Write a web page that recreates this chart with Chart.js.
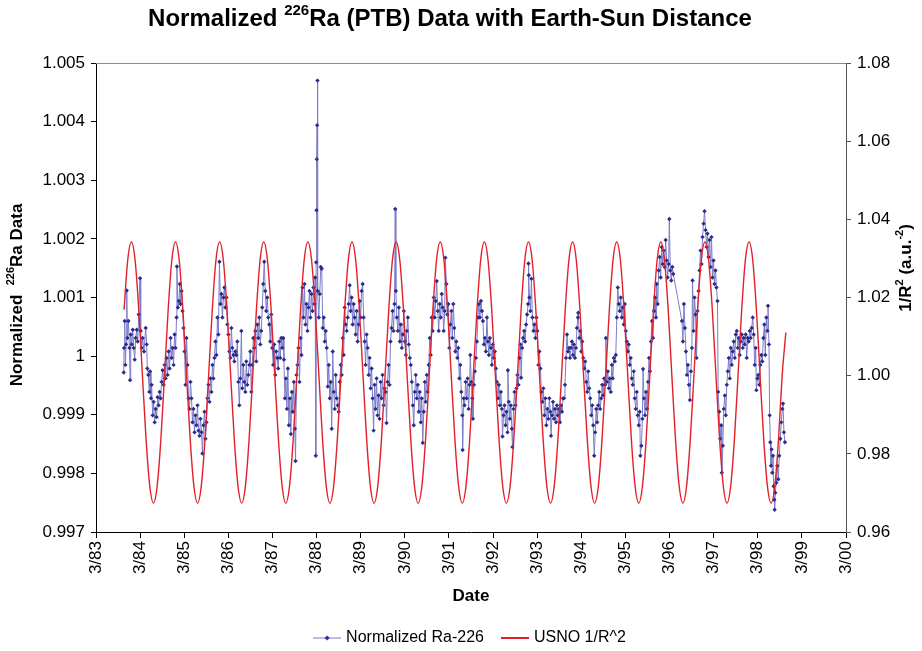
<!DOCTYPE html>
<html>
<head>
<meta charset="utf-8">
<title>Normalized 226Ra (PTB) Data with Earth-Sun Distance</title>
<script src="https://cdn.jsdelivr.net/npm/chart.js@4.4.1/dist/chart.umd.min.js"></script>
<style>
  html, body { margin: 0; padding: 0; background: #fff; }
  #wrap { width: 922px; height: 651px; }
</style>
</head>
<body>
<div id="wrap"><canvas id="chart" width="922" height="651"></canvas></div>
<script>
// x axis: one tick each March, as decimal years
var xTickYears = [1983.167, 1984.167, 1985.167, 1986.167, 1987.167, 1988.167, 1989.167, 1990.167, 1991.167,
  1992.167, 1993.167, 1994.167, 1995.167, 1996.167, 1997.167, 1998.167, 1999.167, 2000.167];
var xTickLabels = ['3/83', '3/84', '3/85', '3/86', '3/87', '3/88', '3/89', '3/90', '3/91',
  '3/92', '3/93', '3/94', '3/95', '3/96', '3/97', '3/98', '3/99', '3/00'];

var leftTickValues = [0.997, 0.998, 0.999, 1.000, 1.001, 1.002, 1.003, 1.004, 1.005];
var leftTickLabels = ['0.997', '0.998', '0.999', '1', '1.001', '1.002', '1.003', '1.004', '1.005'];
var rightTickValues = [0.96, 0.98, 1.00, 1.02, 1.04, 1.06, 1.08];
var rightTickLabels = ['0.96', '0.98', '1.00', '1.02', '1.04', '1.06', '1.08'];

// Normalized Ra-226 (PTB), date as decimal year
var raDates = [
  1983.796, 1983.803, 1983.818, 1983.833, 1983.849, 1983.864, 1983.879, 1983.901, 1983.924, 1983.939,
  1983.954, 1983.977, 1984.000, 1984.022, 1984.044, 1984.067, 1984.090, 1984.112, 1984.135, 1984.165,
  1984.180, 1984.202, 1984.225, 1984.255, 1984.293, 1984.315, 1984.330, 1984.353, 1984.376, 1984.391,
  1984.413, 1984.428, 1984.451, 1984.474, 1984.496, 1984.519, 1984.541, 1984.564, 1984.587, 1984.609,
  1984.632, 1984.654, 1984.677, 1984.699, 1984.722, 1984.745, 1984.767, 1984.790, 1984.812, 1984.835,
  1984.858, 1984.880, 1984.903, 1984.925, 1984.948, 1984.971, 1984.993, 1985.001, 1985.023, 1985.046,
  1985.068, 1985.084, 1985.106, 1985.129, 1985.151, 1985.174, 1985.196, 1985.219, 1985.242, 1985.264,
  1985.287, 1985.309, 1985.332, 1985.355, 1985.377, 1985.400, 1985.422, 1985.445, 1985.468, 1985.490,
  1985.513, 1985.535, 1985.558, 1985.580, 1985.603, 1985.626, 1985.648, 1985.671, 1985.693, 1985.716,
  1985.739, 1985.761, 1985.784, 1985.806, 1985.829, 1985.852, 1985.874, 1985.897, 1985.919, 1985.942,
  1985.965, 1985.987, 1986.010, 1986.032, 1986.055, 1986.077, 1986.100, 1986.123, 1986.145, 1986.168,
  1986.190, 1986.213, 1986.236, 1986.258, 1986.281, 1986.303, 1986.326, 1986.349, 1986.371, 1986.394,
  1986.416, 1986.439, 1986.462, 1986.484, 1986.507, 1986.529, 1986.552, 1986.574, 1986.597, 1986.620,
  1986.642, 1986.665, 1986.687, 1986.710, 1986.733, 1986.755, 1986.778, 1986.800, 1986.823, 1986.846,
  1986.868, 1986.891, 1986.913, 1986.936, 1986.958, 1986.981, 1987.004, 1987.026, 1987.049, 1987.071,
  1987.094, 1987.117, 1987.139, 1987.162, 1987.184, 1987.207, 1987.230, 1987.252, 1987.275, 1987.297,
  1987.320, 1987.343, 1987.365, 1987.388, 1987.410,
  1987.426, 1987.449, 1987.471, 1987.494, 1987.516, 1987.539, 1987.562, 1987.584, 1987.607, 1987.629,
  1987.652, 1987.674, 1987.690, 1987.712, 1987.735, 1987.757, 1987.780, 1987.803, 1987.825, 1987.848,
  1987.870, 1987.893, 1987.915, 1987.938, 1987.961, 1987.983, 1988.006, 1988.028, 1988.051, 1988.074,
  1988.096, 1988.119, 1988.134, 1988.149, 1988.156, 1988.164, 1988.171, 1988.179, 1988.187, 1988.194,
  1988.217, 1988.239, 1988.262, 1988.284, 1988.307, 1988.330, 1988.352, 1988.375, 1988.397, 1988.420,
  1988.443, 1988.465, 1988.488, 1988.510, 1988.533, 1988.556, 1988.578, 1988.601, 1988.623, 1988.646,
  1988.668, 1988.691, 1988.714, 1988.736, 1988.759, 1988.781, 1988.804, 1988.827, 1988.849, 1988.872,
  1988.894, 1988.917, 1988.940, 1988.962, 1988.985, 1989.007, 1989.030, 1989.053, 1989.075, 1989.098,
  1989.120, 1989.143, 1989.165, 1989.188, 1989.211, 1989.233, 1989.256, 1989.278, 1989.301, 1989.324,
  1989.346, 1989.369, 1989.391, 1989.414, 1989.437, 1989.459, 1989.482, 1989.504, 1989.527, 1989.549,
  1989.572, 1989.595, 1989.617, 1989.640, 1989.662, 1989.685, 1989.708, 1989.730, 1989.753, 1989.775,
  1989.798, 1989.821, 1989.843, 1989.866, 1989.888, 1989.911, 1989.933, 1989.949, 1989.964, 1989.986,
  1990.009, 1990.032, 1990.054, 1990.077, 1990.099, 1990.122, 1990.144, 1990.167, 1990.190, 1990.212,
  1990.235, 1990.257, 1990.280, 1990.302, 1990.325, 1990.348, 1990.370, 1990.393, 1990.415, 1990.438,
  1990.461, 1990.483, 1990.506, 1990.528, 1990.551, 1990.574, 1990.596, 1990.619, 1990.641, 1990.664,
  1990.686, 1990.709, 1990.732, 1990.754, 1990.777, 1990.799, 1990.822, 1990.845, 1990.867, 1990.890,
  1990.913, 1990.935, 1990.958, 1990.980, 1991.003, 1991.025, 1991.048, 1991.071, 1991.086, 1991.108,
  1991.131, 1991.153, 1991.176, 1991.199, 1991.221, 1991.244, 1991.266, 1991.289, 1991.312, 1991.334,
  1991.357, 1991.379, 1991.402, 1991.425, 1991.447, 1991.470, 1991.477, 1991.500, 1991.522, 1991.545,
  1991.568, 1991.590, 1991.613, 1991.635,
  1991.651, 1991.674, 1991.696, 1991.711, 1991.734, 1991.756, 1991.779, 1991.802, 1991.824, 1991.847,
  1991.869, 1991.892, 1991.915, 1991.937, 1991.960, 1991.982, 1992.005, 1992.028, 1992.050, 1992.073,
  1992.095, 1992.118, 1992.140, 1992.163, 1992.186, 1992.208, 1992.231, 1992.253, 1992.276, 1992.299,
  1992.321, 1992.344, 1992.366, 1992.381, 1992.404, 1992.427, 1992.449, 1992.472, 1992.494, 1992.502,
  1992.524, 1992.547, 1992.570, 1992.592, 1992.607, 1992.630, 1992.653, 1992.675, 1992.698, 1992.720,
  1992.743, 1992.765, 1992.788, 1992.803, 1992.826, 1992.848, 1992.871, 1992.893, 1992.916, 1992.939,
  1992.961, 1992.969, 1992.976, 1992.991, 1993.014, 1993.037, 1993.059, 1993.082, 1993.104, 1993.127,
  1993.150, 1993.172, 1993.195, 1993.217, 1993.240, 1993.262, 1993.285, 1993.308, 1993.330, 1993.353,
  1993.375, 1993.398, 1993.421, 1993.443, 1993.466, 1993.481, 1993.503, 1993.526, 1993.549, 1993.571,
  1993.594, 1993.616, 1993.639, 1993.662, 1993.684, 1993.707, 1993.729, 1993.752, 1993.775, 1993.797,
  1993.820, 1993.842, 1993.865, 1993.888, 1993.910, 1993.933, 1993.955, 1993.978, 1994.000, 1994.023,
  1994.046, 1994.068, 1994.091, 1994.098, 1994.121, 1994.143, 1994.166, 1994.189, 1994.211, 1994.234,
  1994.256, 1994.279, 1994.302, 1994.324, 1994.347, 1994.369, 1994.392, 1994.415, 1994.437, 1994.460,
  1994.482, 1994.505, 1994.527, 1994.550, 1994.573, 1994.595, 1994.618, 1994.640, 1994.663, 1994.685,
  1994.708, 1994.723, 1994.746, 1994.768, 1994.791, 1994.814, 1994.836, 1994.859, 1994.881, 1994.904,
  1994.927, 1994.949, 1994.972, 1994.994, 1995.017, 1995.040, 1995.062, 1995.085, 1995.107, 1995.130,
  1995.153, 1995.175, 1995.198, 1995.220, 1995.243, 1995.265, 1995.288, 1995.311, 1995.333, 1995.356,
  1995.378, 1995.401, 1995.424, 1995.446, 1995.469, 1995.491, 1995.506, 1995.529, 1995.552, 1995.567,
  1995.589, 1995.612, 1995.634, 1995.657, 1995.680, 1995.702, 1995.725, 1995.747, 1995.770, 1995.793,
  1995.815, 1995.838, 1995.860,
  1995.876, 1995.899, 1995.921, 1995.944, 1995.966, 1995.989, 1996.012, 1996.034, 1996.057, 1996.079,
  1996.102, 1996.124, 1996.147, 1996.162, 1996.185, 1996.207, 1996.230, 1996.252, 1996.448, 1996.471,
  1996.493, 1996.516, 1996.539, 1996.561, 1996.584, 1996.606, 1996.629, 1996.652, 1996.674, 1996.689,
  1996.712, 1996.734, 1996.757, 1996.780, 1996.802, 1996.825, 1996.847, 1996.870, 1996.893, 1996.915,
  1996.938, 1996.960, 1996.983, 1997.006, 1997.028, 1997.051, 1997.073, 1997.096, 1997.118, 1997.141,
  1997.164, 1997.186, 1997.209, 1997.231, 1997.254, 1997.269, 1997.292, 1997.314, 1997.337, 1997.352,
  1997.375, 1997.397, 1997.420, 1997.442, 1997.465, 1997.487, 1997.510, 1997.533, 1997.555, 1997.578,
  1997.600, 1997.623, 1997.646, 1997.668, 1997.691, 1997.713, 1997.736, 1997.758, 1997.781, 1997.804,
  1997.826, 1997.849, 1997.871, 1997.894, 1997.917, 1997.939, 1997.962, 1997.984, 1998.007, 1998.030,
  1998.052, 1998.075, 1998.097, 1998.120, 1998.135, 1998.158, 1998.180, 1998.203, 1998.225, 1998.248,
  1998.271, 1998.293, 1998.316, 1998.338, 1998.361, 1998.384, 1998.399, 1998.421, 1998.436, 1998.451,
  1998.466, 1998.481, 1998.496, 1998.512, 1998.527, 1998.542, 1998.549, 1998.564, 1998.587, 1998.609,
  1998.632, 1998.654, 1998.677, 1998.700, 1998.723, 1998.738, 1998.760, 1998.783
];
var raValues = [
  0.99972, 1.00014, 1.00060, 0.99985, 1.00020, 1.00112, 1.00031, 1.00060, 1.00014, 0.99959,
  1.00037, 1.00020, 1.00045, 1.00014, 0.99994, 1.00031, 1.00045, 1.00025, 1.00071, 1.00133,
  1.00043, 1.00014, 1.00031, 1.00008, 1.00048, 1.00020, 0.99979, 0.99968, 0.99939, 0.99974,
  0.99928, 0.99951, 0.99899, 0.99922, 0.99887, 0.99910, 0.99896, 0.99930, 0.99916, 0.99939,
  0.99928, 0.99956, 0.99976, 0.99951, 0.99985, 0.99962, 0.99997, 0.99968, 1.00008, 0.99979,
  1.00031, 0.99997, 1.00014, 0.99985, 1.00037, 1.00014, 1.00066, 1.00153, 1.00083, 1.00094,
  1.00123, 1.00089, 1.00111, 1.00077, 1.00048, 1.00008, 0.99951, 1.00031, 0.99985, 0.99928,
  0.99910, 0.99956, 0.99928, 0.99887, 0.99910, 0.99870, 0.99899, 0.99882, 0.99916, 0.99873,
  0.99864, 0.99893, 0.99870, 0.99834, 0.99882, 0.99905, 0.99859, 0.99887, 0.99928, 0.99951,
  0.99922, 0.99962, 0.99939, 0.99985, 0.99962, 0.99997, 1.00025, 1.00002, 1.00066, 1.00037,
  1.00161, 1.00089, 1.00106, 1.00066, 1.00100, 1.00117, 1.00083, 1.00100, 1.00054, 1.00037,
  1.00008, 0.99997, 1.00048, 1.00014, 1.00002, 0.99991, 1.00008, 1.00002, 1.00025, 0.99956,
  0.99916, 0.99962, 1.00043, 0.99945, 0.99985, 0.99956, 0.99939, 0.99991, 0.99951, 0.99968,
  0.99985, 1.00008, 0.99939, 0.99985, 1.00031, 1.00014, 1.00043, 0.99991, 1.00054, 1.00031,
  1.00066, 1.00020, 1.00043, 1.00083, 1.00123, 1.00161, 1.00111, 1.00077, 1.00100, 1.00066,
  1.00054, 1.00025, 1.00071, 1.00014, 0.99985, 1.00020, 0.99968, 1.00008, 0.99997, 0.99979,
  1.00025, 0.99997, 1.00031, 1.00014, 1.00031,
  0.99994, 0.99928, 0.99962, 0.99910, 0.99979, 0.99882, 0.99928, 0.99867, 0.99939, 0.99905,
  0.99956, 0.99876, 0.99821, 0.99968, 0.99985, 1.00014, 0.99956, 1.00031, 1.00002, 1.00117,
  1.00066, 1.00123, 1.00054, 1.00089, 1.00043, 1.00083, 1.00111, 1.00066, 1.00106, 1.00077,
  1.00117, 1.00089, 1.00134, 0.99830, 1.00160, 1.00249, 1.00336, 1.00394, 1.00470, 1.00111,
  1.00066, 1.00106, 1.00152, 1.00149, 1.00048, 1.00066, 1.00025, 1.00043, 1.00014, 0.99948,
  0.99985, 0.99928, 0.99956, 0.99876, 1.00008, 0.99939, 0.99910, 0.99968, 0.99928, 0.99916,
  0.99905, 0.99956, 0.99985, 0.99968, 1.00031, 1.00002, 1.00083, 1.00054, 1.00043, 1.00066,
  1.00089, 1.00121, 1.00077, 1.00100, 1.00054, 1.00089, 1.00066, 1.00037, 1.00077, 1.00025,
  1.00054, 1.00094, 1.00066, 1.00111, 1.00123, 1.00066, 1.00025, 0.99985, 1.00037, 1.00014,
  0.99968, 0.99997, 0.99945, 0.99979, 0.99928, 0.99873, 0.99951, 0.99910, 0.99962, 0.99899,
  0.99933, 0.99893, 0.99956, 0.99928, 0.99968, 0.99916, 0.99945, 0.99939, 0.99886, 0.99956,
  0.99985, 0.99951, 1.00025, 1.00048, 1.00077, 1.00043, 1.00089, 1.00251, 1.00111, 1.00066,
  1.00043, 1.00083, 1.00025, 1.00054, 1.00014, 1.00037, 1.00077, 1.00025, 1.00002, 1.00043,
  1.00066, 1.00020, 0.99997, 0.99985, 0.99956, 0.99916, 0.99882, 0.99939, 0.99968, 0.99928,
  0.99951, 0.99905, 0.99939, 0.99887, 0.99928, 0.99852, 0.99905, 0.99956, 0.99922, 0.99968,
  0.99939, 0.99985, 1.00031, 1.00002, 1.00066, 1.00043, 1.00100, 1.00066, 1.00094, 1.00128,
  1.00077, 1.00043, 1.00089, 1.00066, 1.00106, 1.00083, 1.00043, 1.00077, 1.00168, 1.00123,
  1.00071, 1.00089, 1.00014, 1.00054, 1.00077, 1.00031, 1.00089, 1.00048, 1.00008, 1.00025,
  0.99997, 1.00014, 0.99962, 0.99985, 0.99939, 0.99899, 0.99840, 0.99928, 0.99916, 0.99956,
  0.99928, 0.99962, 0.99910, 0.99951,
  1.00002, 0.99956, 0.99928, 0.99893, 0.99951, 0.99974, 0.99997, 1.00025, 1.00066, 1.00089,
  1.00066, 1.00094, 1.00077, 1.00060, 1.00020, 1.00031, 1.00008, 1.00066, 1.00025, 1.00002,
  1.00031, 1.00014, 0.99985, 1.00020, 0.99997, 1.00008, 0.99979, 0.99956, 0.99928, 0.99951,
  0.99916, 0.99939, 0.99910, 0.99863, 0.99899, 0.99916, 0.99882, 0.99905, 0.99870, 0.99976,
  0.99922, 0.99893, 0.99916, 0.99876, 0.99845, 0.99910, 0.99939, 0.99916, 0.99945, 0.99968,
  0.99951, 0.99997, 1.00020, 0.99963, 1.00014, 1.00031, 1.00043, 1.00025, 1.00054, 1.00071,
  1.00089, 1.00158, 1.00138, 1.00100, 1.00077, 1.00132, 1.00066, 1.00043, 1.00054, 1.00031,
  1.00066, 1.00043, 0.99985, 1.00008, 0.99979, 0.99939, 0.99922, 0.99945, 0.99899, 0.99928,
  0.99882, 0.99910, 0.99893, 0.99928, 0.99905, 0.99864, 0.99899, 0.99922, 0.99893, 0.99910,
  0.99887, 0.99916, 0.99899, 0.99910, 0.99887, 0.99916, 0.99905, 0.99928, 0.99928, 0.99951,
  0.99997, 1.00037, 1.00008, 1.00014, 0.99997, 1.00014, 1.00025, 1.00002, 1.00020, 0.99997,
  1.00014, 1.00048, 1.00066, 1.00074, 1.00031, 1.00043, 1.00008, 1.00025, 0.99997, 0.99979,
  0.99991, 0.99956, 0.99939, 0.99974, 0.99945, 0.99928, 0.99899, 0.99916, 0.99882, 0.99830,
  0.99870, 0.99910, 0.99887, 0.99916, 0.99939, 0.99910, 0.99928, 0.99951, 0.99933, 0.99962,
  0.99951, 1.00031, 0.99956, 0.99974, 0.99945, 0.99962, 0.99939, 0.99985, 0.99962, 0.99997,
  0.99991, 1.00002, 1.00066, 1.00117, 1.00089, 1.00077, 1.00100, 1.00066, 1.00083, 1.00054,
  1.00089, 1.00043, 1.00025, 1.00008, 1.00020, 0.99985, 0.99997, 0.99962, 0.99951, 0.99974,
  0.99928, 0.99910, 0.99939, 0.99899, 0.99882, 0.99905, 0.99830, 0.99847, 0.99893, 0.99978,
  0.99928, 0.99899, 0.99939, 0.99910, 0.99956, 0.99997, 0.99974, 1.00025, 1.00060, 1.00031,
  1.00077, 1.00100, 1.00066,
  1.00123, 1.00089, 1.00146, 1.00169, 1.00134, 1.00186, 1.00157, 1.00180, 1.00152, 1.00198,
  1.00163, 1.00134, 1.00157, 1.00234, 1.00146, 1.00129, 1.00152, 1.00140, 1.00060, 1.00025,
  1.00089, 1.00048, 1.00008, 0.99968, 0.99985, 0.99951, 0.99925, 0.99974, 1.00014, 1.00129,
  1.00043, 1.00100, 1.00071, 0.99997, 1.00077, 1.00111, 1.00146, 1.00180, 1.00157, 1.00203,
  1.00226, 1.00247, 1.00215, 1.00186, 1.00209, 1.00169, 1.00198, 1.00152, 1.00203, 1.00134,
  1.00163, 1.00123, 1.00146, 1.00117, 1.00094, 0.99939, 0.99905, 0.99859, 0.99882, 0.99801,
  0.99847, 0.99910, 0.99933, 0.99899, 0.99951, 0.99974, 0.99997, 0.99962, 1.00014, 0.99985,
  1.00008, 1.00025, 0.99997, 1.00037, 1.00043, 1.00014, 1.00031, 1.00002, 1.00025, 1.00037,
  1.00014, 1.00031, 1.00020, 1.00037, 0.99997, 1.00031, 1.00025, 1.00043, 1.00031, 1.00048,
  1.00066, 1.00037, 0.99985, 1.00014, 0.99942, 0.99962, 0.99968, 0.99951, 0.99985, 1.00002,
  0.99991, 1.00031, 1.00054, 1.00002, 1.00066, 1.00043, 1.00086, 1.00020, 0.99899, 0.99853,
  0.99813, 0.99841, 0.99801, 0.99830, 0.99778, 0.99755, 0.99738, 0.99767, 0.99784, 0.99813,
  0.99790, 0.99830, 0.99859, 0.99887, 0.99910, 0.99919, 0.99870, 0.99853
];

// USNO 1/R^2, one value per month from the first date on
var usnoStart = 1983.803;
var usnoValues = [
  1.0169, 1.0296, 1.0342, 1.0296, 1.0169, 1.0000, 0.9835, 0.9717, 0.9674, 0.9717, 0.9835, 1.0000,
  1.0169, 1.0296, 1.0342, 1.0296, 1.0169, 1.0000, 0.9835, 0.9717, 0.9674, 0.9717, 0.9835, 1.0000,
  1.0169, 1.0296, 1.0342, 1.0296, 1.0169, 1.0000, 0.9835, 0.9717, 0.9674, 0.9717, 0.9835, 1.0000,
  1.0169, 1.0296, 1.0342, 1.0296, 1.0169, 1.0000, 0.9835, 0.9717, 0.9674, 0.9717, 0.9835, 1.0000,
  1.0169, 1.0296, 1.0342, 1.0296, 1.0169, 1.0000, 0.9835, 0.9717, 0.9674, 0.9717, 0.9835, 1.0000,
  1.0169, 1.0296, 1.0342, 1.0296, 1.0169, 1.0000, 0.9835, 0.9717, 0.9674, 0.9717, 0.9835, 1.0000,
  1.0169, 1.0296, 1.0342, 1.0296, 1.0169, 1.0000, 0.9835, 0.9717, 0.9674, 0.9717, 0.9835, 1.0000,
  1.0169, 1.0296, 1.0342, 1.0296, 1.0169, 1.0000, 0.9835, 0.9717, 0.9674, 0.9717, 0.9835, 1.0000,
  1.0169, 1.0296, 1.0342, 1.0296, 1.0169, 1.0000, 0.9835, 0.9717, 0.9674, 0.9717, 0.9835, 1.0000,
  1.0169, 1.0296, 1.0342, 1.0296, 1.0169, 1.0000, 0.9835, 0.9717, 0.9674, 0.9717, 0.9835, 1.0000,
  1.0169, 1.0296, 1.0342, 1.0296, 1.0169, 1.0000, 0.9835, 0.9717, 0.9674, 0.9717, 0.9835, 1.0000,
  1.0169, 1.0296, 1.0342, 1.0296, 1.0169, 1.0000, 0.9835, 0.9717, 0.9674, 0.9717, 0.9835, 1.0000,
  1.0169, 1.0296, 1.0342, 1.0296, 1.0169, 1.0000, 0.9835, 0.9717, 0.9674, 0.9717, 0.9835, 1.0000,
  1.0169, 1.0296, 1.0342, 1.0296, 1.0169, 1.0000, 0.9835, 0.9717, 0.9674, 0.9717, 0.9835, 1.0000,
  1.0169, 1.0296, 1.0342, 1.0296, 1.0169, 1.0000, 0.9835, 0.9717, 0.9674, 0.9717, 0.9835, 1.0000,
  1.0110
];

(function () {
  'use strict';

  var FONT = '"Liberation Sans", Arial, sans-serif';
  var RA_LINE = '#7c7cc6';
  var RA_MARK = '#2b2b8c';
  var USNO_RED = '#e3202a';

  Chart.defaults.font.family = FONT;
  Chart.defaults.color = '#000';

  var n = Math.min(raDates.length, raValues.length);
  var raPoints = [];
  for (var i = 0; i < n; i++) {
    raPoints.push({ x: raDates[i], y: raValues[i] });
  }
  var usnoPoints = usnoValues.map(function (v, k) {
    return { x: usnoStart + k / 12, y: v };
  });

  // small legend samples: line with marker / plain line
  function legendIcon(color, mark) {
    var c = document.createElement('canvas');
    c.width = 28;
    c.height = 10;
    var g = c.getContext('2d');
    g.strokeStyle = color;
    g.lineWidth = mark ? 1 : 2;
    g.beginPath();
    g.moveTo(0, 5);
    g.lineTo(28, 5);
    g.stroke();
    if (mark) {
      g.fillStyle = mark;
      g.beginPath();
      g.moveTo(14, 2.5);
      g.lineTo(16.5, 5);
      g.lineTo(14, 7.5);
      g.lineTo(11.5, 5);
      g.closePath();
      g.fill();
    }
    return c;
  }
  var legendIcons = [legendIcon(RA_LINE, RA_MARK), legendIcon(USNO_RED, null)];

  // text with raised parts, e.g. 226Ra
  function drawRich(ctx, parts, cx, cy, size, angle) {
    var base = 'bold ' + size + 'px ' + FONT;
    var sup = 'bold ' + Math.round(size * 0.62) + 'px ' + FONT;
    var total = 0;
    parts.forEach(function (p) {
      ctx.font = p[1] ? sup : base;
      total += ctx.measureText(p[0]).width;
    });
    ctx.save();
    ctx.translate(cx, cy);
    ctx.rotate(angle || 0);
    ctx.fillStyle = '#000';
    ctx.textBaseline = 'middle';
    ctx.textAlign = 'left';
    var x = -total / 2;
    parts.forEach(function (p) {
      ctx.font = p[1] ? sup : base;
      ctx.fillText(p[0], x, p[1] ? -size * 0.36 : 0);
      x += ctx.measureText(p[0]).width;
    });
    ctx.restore();
  }

  var titlesPlugin = {
    id: 'titles',
    afterLayout: function (chart) {
      // the legend sits a little right of centre and lower in the original
      var lg = chart.legend;
      if (lg) {
        lg.left += 10;
        lg.right += 10;
        lg.top += 5;
        lg.bottom += 5;
      }
    },
    afterDraw: function (chart) {
      var ctx = chart.ctx;
      var area = chart.chartArea;

      // plot frame top edge
      ctx.save();
      ctx.strokeStyle = '#8c8c8c';
      ctx.lineWidth = 1;
      ctx.beginPath();
      ctx.moveTo(area.left, area.top + 0.5);
      ctx.lineTo(area.right, area.top + 0.5);
      ctx.stroke();
      ctx.restore();

      drawRich(ctx, [['Normalized ', false], ['226', true], ['Ra (PTB) Data with Earth-Sun Distance', false]], 450, 19, 24, 0);
      drawRich(ctx, [['Normalized  ', false], ['226', true], ['Ra Data', false]], 17, 295, 17, -Math.PI / 2);
      drawRich(ctx, [['1/R', false], ['2', true], [' (a.u.', false], ['-2', true], [')', false]], 906, 268, 17, -Math.PI / 2);
      drawRich(ctx, [['Date', false]], (area.left + area.right) / 2, 596, 17, 0);
    }
  };

  function fixedTicks(values) {
    return function (scale) {
      scale.ticks = values.map(function (v) { return { value: v }; });
    };
  }

  var ctx = document.getElementById('chart').getContext('2d');
  new Chart(ctx, {
    type: 'line',
    data: {
      datasets: [{
        label: 'Normalized Ra-226',
        data: raPoints,
        yAxisID: 'y',
        borderColor: RA_LINE,
        borderWidth: 1,
        pointStyle: 'rectRot',
        pointRadius: 2.2,
        pointBackgroundColor: RA_MARK,
        pointBorderColor: RA_MARK,
        pointBorderWidth: 0,
        tension: 0,
        order: 2
      }, {
        label: 'USNO 1/R^2',
        data: usnoPoints,
        yAxisID: 'y1',
        borderColor: USNO_RED,
        borderWidth: 1.4,
        pointRadius: 0,
        cubicInterpolationMode: 'monotone',
        order: 1
      }]
    },
    options: {
      responsive: false,
      animation: false,
      devicePixelRatio: 1,
      layout: { padding: { top: 63, left: 0, right: 0, bottom: 0 } },
      plugins: {
        title: { display: false },
        tooltip: { enabled: false },
        legend: {
          position: 'bottom',
          labels: {
            font: { size: 16 },
            color: '#000',
            usePointStyle: true,
            pointStyleWidth: 22,
            boxHeight: 10,
            padding: 20,
            sort: function (a, b) { return a.datasetIndex - b.datasetIndex; },
            generateLabels: function (chart) {
              return chart.data.datasets.map(function (ds, k) {
                return {
                  text: ds.label,
                  pointStyle: legendIcons[k],
                  fillStyle: 'rgba(0,0,0,0)',
                  strokeStyle: 'rgba(0,0,0,0)',
                  lineWidth: 0,
                  hidden: false,
                  datasetIndex: k,
                  fontColor: '#000'
                };
              });
            }
          }
        }
      },
      scales: {
        x: {
          type: 'linear',
          min: 1983.167,
          max: 2000.167,
          afterBuildTicks: fixedTicks(xTickYears),
          afterFit: function (scale) { scale.height = 73; },
          ticks: {
            autoSkip: false,
            maxRotation: 90,
            minRotation: 90,
            padding: 3,
            font: { size: 17 },
            color: '#000',
            callback: function (v, k) { return xTickLabels[k]; }
          },
          grid: { display: true, drawOnChartArea: false, drawTicks: true, tickLength: 6, color: '#000' },
          border: { display: true, color: '#000', width: 1 }
        },
        y: {
          position: 'left',
          min: 0.997,
          max: 1.005,
          afterBuildTicks: fixedTicks(leftTickValues),
          afterFit: function (scale) { scale.width = 96; },
          ticks: {
            padding: 6,
            font: { size: 17 },
            color: '#000',
            callback: function (v, k) { return leftTickLabels[k]; }
          },
          grid: { display: true, drawOnChartArea: false, drawTicks: true, tickLength: 5, color: '#000' },
          border: { display: true, color: '#000', width: 1 }
        },
        y1: {
          position: 'right',
          min: 0.96,
          max: 1.08,
          afterBuildTicks: fixedTicks(rightTickValues),
          afterFit: function (scale) { scale.width = 76; },
          ticks: {
            padding: 6,
            font: { size: 17 },
            color: '#000',
            callback: function (v, k) { return rightTickLabels[k]; }
          },
          grid: { display: true, drawOnChartArea: false, drawTicks: true, tickLength: 5, color: '#555' },
          border: { display: true, color: '#555', width: 1 }
        }
      }
    },
    plugins: [titlesPlugin]
  });
})();
</script>
</body>
</html>
